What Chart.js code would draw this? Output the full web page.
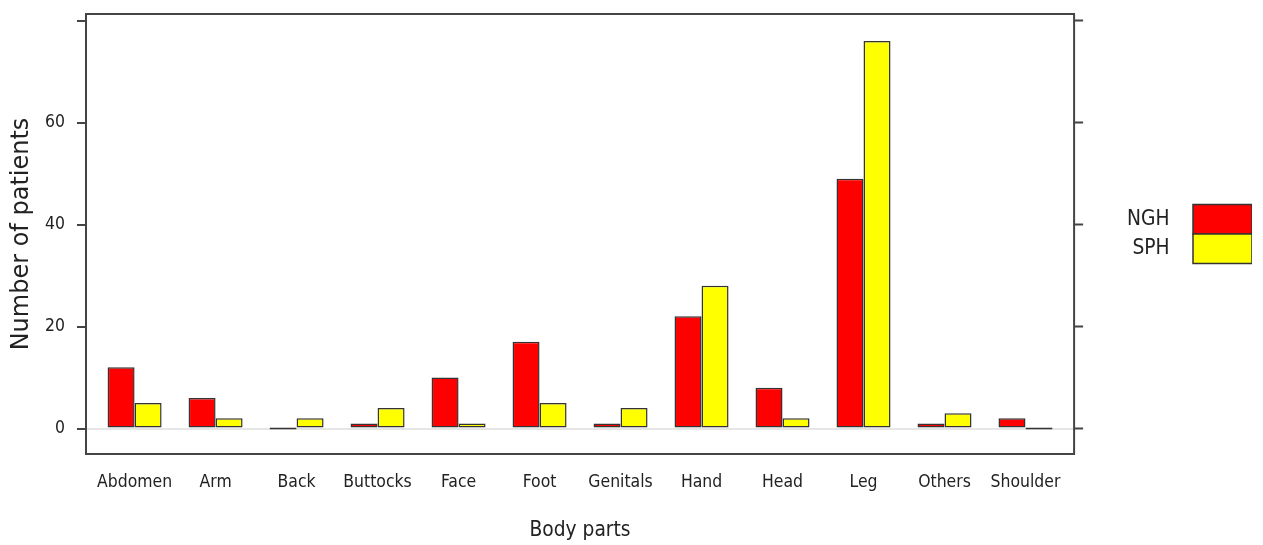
<!DOCTYPE html>
<html>
<head>
<meta charset="utf-8">
<script src="https://cdn.jsdelivr.net/npm/chart.js@4/dist/chart.umd.min.js"></script>
<style>
  html, body { margin: 0; padding: 0; background: #fff; }
  #wrap { width: 1263px; height: 545px; }
</style>
</head>
<body>
<div id="wrap"><canvas id="bodyChart" width="1263" height="545"></canvas></div>
<script>
// data
const bodyParts = ['Abdomen', 'Arm', 'Back', 'Buttocks', 'Face', 'Foot', 'Genitals', 'Hand', 'Head', 'Leg', 'Others', 'Shoulder'];
const nghValues = [12, 6, 0, 1, 10, 17, 1, 22, 8, 49, 1, 2];
const sphValues = [5, 2, 2, 4, 1, 5, 4, 28, 2, 76, 3, 0];
const yTickLabels = [0, 20, 40, 60];

// the reference text is condensed; use a narrow face if one is installed
function hasFont(name) {
    const c = document.createElement('canvas').getContext('2d');
    c.font = '40px monospace';
    const base = c.measureText('Abdomen Shoulder').width;
    c.font = '40px "' + name + '", monospace';
    return c.measureText('Abdomen Shoulder').width !== base;
}
let narrow = '"Liberation Sans", sans-serif';
let scale = 0.8;  // shrink factor when no narrow face
['Liberation Sans Narrow', 'DejaVu Sans Condensed'].some(f => {
    if (hasFont(f)) { narrow = '"' + f + '", sans-serif'; scale = f.startsWith('DejaVu') ? 0.83 : 1; return true; }
    return false;
});
const tickSize = 21 * scale;
const bigSize = 25 * scale;
const legendSize = 25 * scale;

function toPoints(values) {
    return values.map((v, i) => ({ x: i, y: v }));
}

// box around the plot area
const framePlugin = {
    id: 'frame',
    afterDatasetsDraw(chart) {
        const { ctx, chartArea } = chart;
        ctx.save();
        ctx.strokeStyle = '#444';
        ctx.lineWidth = 2;
        ctx.strokeRect(chartArea.left, chartArea.top, chartArea.right - chartArea.left, chartArea.bottom - chartArea.top);
        ctx.restore();
    }
};

const tickMarkColor = c => (c.tick && c.tick.value % 20 === 0) ? '#444' : 'transparent';

new Chart(document.getElementById('bodyChart').getContext('2d'), {
    type: 'bar',
    data: {
        datasets: [{
            label: 'NGH',
            data: toPoints(nghValues),
            backgroundColor: '#ff0000',
            borderColor: '#333',
            borderWidth: 1.5,
            borderSkipped: false,
            minBarLength: 2
        }, {
            label: 'SPH',
            data: toPoints(sphValues),
            backgroundColor: '#ffff00',
            borderColor: '#333',
            borderWidth: 1.5,
            borderSkipped: false,
            minBarLength: 2
        }]
    },
    options: {
        responsive: false,
        animation: false,
        datasets: { bar: { categoryPercentage: 0.667, barPercentage: 1 } },
        layout: { padding: { top: 14, right: 11, bottom: 0, left: 0 } },
        plugins: {
            tooltip: { enabled: false },
            legend: {
                position: 'right',
                fullSize: false,
                rtl: true,
                labels: {
                    boxWidth: 59,
                    boxHeight: 29.5,
                    padding: 0,
                    color: '#222',
                    font: { family: narrow, size: legendSize },
                    // a little extra room between the name and its box
                    generateLabels: chart => Chart.defaults.plugins.legend.labels.generateLabels(chart)
                        .map(item => Object.assign(item, { text: item.text + '\u2002\u2009' }))
                }
            }
        },
        scales: {
            x: {
                type: 'linear',
                min: -0.6,
                max: 11.6,
                offset: false,
                afterFit: s => { s.height = 91; },
                grid: { display: false, drawTicks: false },
                border: { display: false },
                ticks: {
                    stepSize: 1,
                    includeBounds: false,
                    autoSkip: false,
                    maxRotation: 0,
                    padding: 18,
                    color: '#222',
                    font: { family: narrow, size: tickSize },
                    callback: v => Math.abs(v - Math.round(v)) < 1e-6 ? bodyParts[Math.round(v)] : ''
                },
                title: {
                    display: true,
                    text: 'Body parts',
                    color: '#222',
                    font: { family: narrow, size: bigSize },
                    padding: { top: 0, bottom: 2 }
                }
            },
            y: {
                min: -5,
                max: 81.3,
                afterFit: s => { s.width = 86; s.paddingTop = 0; s.paddingBottom = 0; },
                border: { display: false },
                grid: {
                    color: c => (c.tick && c.tick.value === 0) ? '#e6e6e6' : 'transparent',
                    lineWidth: 2,
                    tickColor: tickMarkColor,
                    tickLength: 9,
                    tickWidth: 2
                },
                ticks: {
                    stepSize: 20,
                    includeBounds: false,
                    padding: 12,
                    color: '#222',
                    font: { family: narrow, size: tickSize },
                    callback: v => yTickLabels.includes(v) ? String(v) : ''
                },
                title: {
                    display: true,
                    text: 'Number of patients',
                    color: '#222',
                    font: { family: '"DejaVu Sans", sans-serif', size: 24 },
                    padding: { top: 7, bottom: 0 }
                }
            },
            y2: {
                position: 'right',
                min: -5,
                max: 81.3,
                afterFit: s => { s.width = 43; s.paddingTop = 0; s.paddingBottom = 0; },
                border: { display: false },
                grid: {
                    drawOnChartArea: false,
                    tickColor: tickMarkColor,
                    tickLength: 9,
                    tickWidth: 2
                },
                ticks: { display: false, stepSize: 20, includeBounds: false }
            }
        }
    },
    plugins: [framePlugin]
});
</script>
</body>
</html>
